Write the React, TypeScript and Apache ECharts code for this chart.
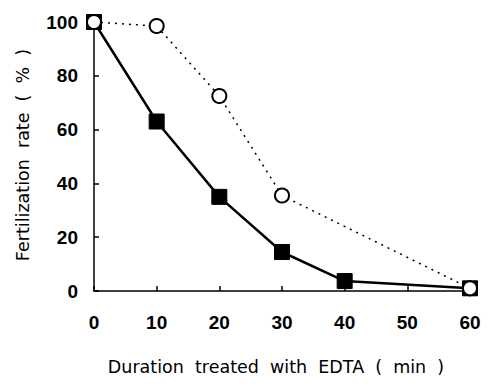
import React, { useEffect, useRef } from "react";
import * as echarts from "echarts";

const xTicks = [0, 10, 20, 30, 40, 50, 60];
const squareSeries: [number, number][] = [
  [0, 100],
  [10, 63],
  [20, 35],
  [30, 14.5],
  [40, 3.7],
  [60, 1],
];
const circleSeries: [number, number][] = [
  [0, 100],
  [10, 98.5],
  [20, 72.5],
  [30, 35.5],
  [60, 1],
];
const xTitle = "Duration  treated  with  EDTA  (  min  )";
const yTitle = "Fertilization  rate  (  %  )";

export default function App() {
  const ref = useRef<HTMLDivElement>(null);
  useEffect(() => {
    const chart = echarts.init(ref.current!, null, { renderer: "svg" });
    chart.setOption({
      animation: false,
      backgroundColor: "#fff",
      grid: { left: 94, right: 19, top: 22, bottom: 96 },
      graphic: [
        {
          type: "text",
          x: 276,
          y: 367,
          style: {
            text: xTitle,
            fontFamily: "DejaVu Sans",
            fontSize: 17.5,
            fill: "#000",
            align: "center",
            verticalAlign: "middle",
          },
        },
        {
          type: "text",
          x: 23,
          y: 155,
          rotation: Math.PI / 2,
          style: {
            text: yTitle,
            fontFamily: "DejaVu Sans",
            fontSize: 17.5,
            fill: "#000",
            align: "center",
            verticalAlign: "middle",
          },
        },
      ],
      xAxis: {
        type: "value",
        min: 0,
        max: 60,
        interval: 10,
        axisLine: { lineStyle: { color: "#000", width: 1.5 } },
        axisTick: { inside: true, length: 5, lineStyle: { color: "#000", width: 1.5 } },
        splitLine: { show: false },
        axisLabel: {
          margin: 22,
          fontFamily: "Liberation Sans",
          fontWeight: "bold",
          fontSize: 19,
          color: "#000",
          formatter: (v: number) => (xTicks.includes(v) ? String(v) : ""),
        },
      },
      yAxis: {
        type: "value",
        min: 0,
        max: 100,
        interval: 20,
        axisLine: { show: true, lineStyle: { color: "#000", width: 1.5 } },
        axisTick: { show: true, inside: true, length: 5, lineStyle: { color: "#000", width: 1.5 } },
        splitLine: { show: false },
        axisLabel: {
          margin: 16,
          fontFamily: "Liberation Sans",
          fontWeight: "bold",
          fontSize: 19,
          color: "#000",
        },
      },
      series: [
        {
          type: "line",
          data: circleSeries,
          symbol: "circle",
          symbolSize: 14,
          lineStyle: { color: "#000", width: 1.5, type: [2, 5] },
          itemStyle: { color: "#fff", borderColor: "#000", borderWidth: 2 },
          z: 2,
        },
        {
          type: "line",
          data: squareSeries,
          symbol: "rect",
          symbolSize: 15,
          lineStyle: { color: "#000", width: 2.5 },
          itemStyle: { color: "#000", borderColor: "#000" },
          z: 1,
        },
      ],
    });
    return () => chart.dispose();
  }, []);
  return <div ref={ref} style={{ width: 489, height: 387, margin: -8 }} />;
}
